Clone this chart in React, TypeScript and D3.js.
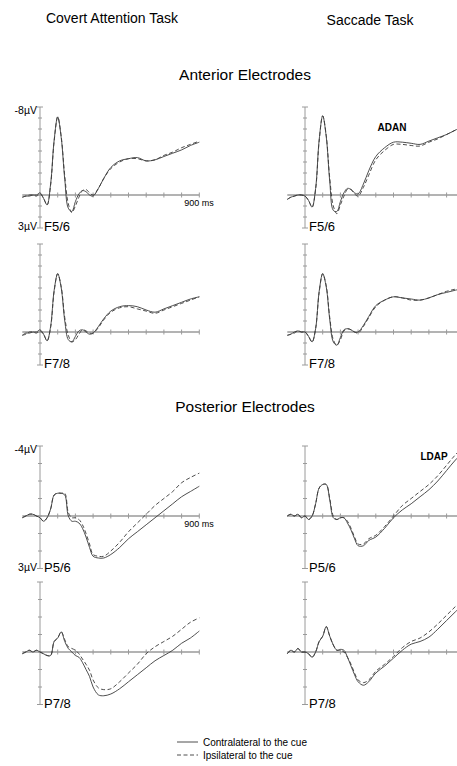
import React, { useEffect, useRef } from "react";
import * as d3 from "d3";

// time points in ms
const times = [-100, -80, -60, -40, -20, 0, 20, 40, 60, 80, 100, 120, 140, 160, 180, 200, 220, 240, 260, 280, 300, 330, 360, 400, 450, 500, 550, 600, 650, 700, 750, 800, 850, 900];

// Anterior, covert attention (µV, negative up)
const covertF56Contra = [0.2, 0.1, 0.1, 0.0, 0.0, -0.2, 0.3, 0.9, -1.0, -5.0, -7.1, -5.2, -1.4, 1.2, 1.5, 0.6, -0.1, -0.4, -0.3, 0.0, 0.1, -0.6, -1.5, -2.5, -3.1, -3.3, -3.4, -3.1, -3.2, -3.5, -3.8, -4.1, -4.5, -4.8];
const covertF56Ipsi = [0.2, 0.1, 0.0, 0.0, 0.1, -0.1, 0.3, 0.9, -0.9, -4.9, -7.1, -5.3, -1.7, 0.8, 1.6, 1.0, 0.2, -0.4, -0.5, -0.2, 0.0, -0.6, -1.5, -2.4, -3.0, -3.3, -3.3, -3.1, -3.2, -3.6, -3.9, -4.3, -4.6, -4.9];
const covertF78Contra = [0.3, 0.1, 0.1, 0.0, 0.0, -0.2, 0.2, 0.8, -0.5, -3.8, -5.3, -4.0, -1.0, 0.7, 0.9, 0.4, -0.1, -0.2, 0.0, 0.2, 0.1, -0.5, -1.2, -1.9, -2.3, -2.4, -2.3, -2.0, -1.8, -2.1, -2.4, -2.7, -3.0, -3.2];
const covertF78Ipsi = [0.3, 0.2, 0.0, 0.0, 0.1, -0.1, 0.2, 0.8, -0.4, -3.7, -5.3, -4.1, -1.3, 0.3, 0.9, 0.7, 0.2, -0.2, -0.1, 0.1, 0.1, -0.4, -1.1, -1.8, -2.2, -2.3, -2.1, -1.9, -1.7, -2.0, -2.3, -2.6, -2.9, -3.2];

// Anterior, saccade
const saccadeF56Contra = [0.4, 0.2, 0.1, 0.0, 0.0, 0.1, 0.5, 1.1, -0.6, -5.0, -7.2, -5.3, -1.2, 1.4, 1.5, 0.6, -0.2, -0.6, -0.5, -0.2, -0.1, -1.0, -2.2, -3.5, -4.3, -4.8, -4.8, -4.7, -4.6, -4.9, -5.2, -5.5, -5.9, -6.3];
const saccadeF56Ipsi = [0.4, 0.2, 0.1, 0.0, 0.0, 0.1, 0.5, 1.1, -0.5, -4.9, -7.2, -5.4, -1.5, 1.0, 1.7, 0.9, 0.1, -0.5, -0.5, -0.1, 0.1, -0.7, -1.8, -3.2, -4.05, -4.6, -4.6, -4.5, -4.45, -4.8, -5.1, -5.5, -5.9, -6.2];
const saccadeF78Contra = [0.3, 0.2, 0.0, -0.1, 0.0, 0.0, 0.4, 0.9, -0.3, -3.7, -5.3, -4.1, -1.1, 0.9, 1.2, 0.5, -0.2, -0.3, -0.2, 0.0, 0.0, -0.6, -1.4, -2.4, -2.9, -3.2, -3.1, -3.0, -2.9, -3.1, -3.4, -3.6, -3.8, -4.0];
const saccadeF78Ipsi = [0.3, 0.2, 0.1, -0.1, 0.0, 0.0, 0.4, 0.9, -0.3, -3.6, -5.3, -4.2, -1.3, 0.7, 1.2, 0.7, -0.1, -0.3, -0.2, 0.0, 0.1, -0.5, -1.3, -2.3, -2.9, -3.2, -3.1, -2.9, -2.9, -3.1, -3.4, -3.7, -3.9, -4.1];

// Posterior, covert attention
const covertP56Contra = [0.1, 0.0, -0.1, -0.1, 0.0, 0.1, 0.3, 0.1, -0.4, -1.2, -1.3, -1.3, -1.2, 0.0, 0.3, 0.3, 0.4, 0.7, 1.2, 1.8, 2.3, 2.4, 2.4, 2.2, 1.8, 1.3, 0.9, 0.5, 0.1, -0.3, -0.7, -1.1, -1.4, -1.7];
const covertP56Ipsi = [0.1, 0.0, -0.1, -0.1, 0.0, 0.1, 0.3, 0.1, -0.4, -1.2, -1.3, -1.3, -1.3, -0.2, 0.1, 0.1, 0.2, 0.5, 1.0, 1.6, 2.2, 2.3, 2.3, 2.0, 1.5, 0.9, 0.4, -0.1, -0.6, -1.0, -1.4, -1.9, -2.2, -2.45];
const covertP78Contra = [0.1, 0.0, -0.1, 0.0, -0.1, 0.0, 0.1, 0.2, 0.2, -0.6, -0.8, -1.15, -0.6, -0.2, 0.0, 0.2, 0.3, 0.6, 1.0, 1.4, 2.0, 2.45, 2.5, 2.4, 2.1, 1.7, 1.3, 0.9, 0.5, 0.2, -0.1, -0.5, -0.8, -1.2];
const covertP78Ipsi = [0.1, 0.0, -0.1, 0.0, -0.1, 0.0, 0.1, 0.2, 0.2, -0.6, -0.8, -1.15, -0.7, -0.3, -0.2, -0.1, 0.1, 0.4, 0.7, 1.05, 1.6, 2.05, 2.15, 2.1, 1.7, 1.2, 0.7, 0.1, -0.3, -0.6, -0.9, -1.3, -1.7, -1.95];

// Posterior, saccade
const saccadeP56Contra = [0.0, -0.1, 0.0, -0.1, 0.1, 0.0, 0.2, 0.0, -0.7, -1.6, -1.8, -1.8, -0.9, 0.1, 0.2, 0.1, 0.1, 0.4, 0.8, 1.3, 1.7, 1.7, 1.4, 1.2, 0.7, 0.1, -0.35, -0.7, -1.1, -1.5, -2.0, -2.6, -3.2, -3.7];
const saccadeP56Ipsi = [0.0, -0.1, 0.0, -0.1, 0.1, 0.0, 0.2, 0.0, -0.7, -1.6, -1.8, -1.8, -1.0, 0.0, 0.2, 0.1, 0.1, 0.3, 0.7, 1.2, 1.6, 1.6, 1.3, 1.1, 0.6, 0.0, -0.6, -1.0, -1.4, -1.8, -2.3, -2.9, -3.5, -4.0];
const saccadeP78Contra = [0.1, -0.1, 0.0, -0.2, 0.0, 0.0, 0.1, 0.3, 0.0, -0.6, -0.9, -1.45, -0.9, -0.4, -0.1, -0.15, -0.1, 0.3, 0.8, 1.3, 1.7, 1.9, 1.7, 1.2, 0.8, 0.35, -0.1, -0.45, -0.6, -0.85, -1.3, -1.8, -2.3, -2.8];
const saccadeP78Ipsi = [0.1, -0.1, 0.0, -0.2, 0.0, 0.0, 0.1, 0.3, 0.0, -0.6, -0.9, -1.45, -0.9, -0.4, -0.1, -0.1, 0.0, 0.3, 0.7, 1.2, 1.6, 1.75, 1.6, 1.1, 0.7, 0.25, -0.25, -0.6, -0.8, -1.15, -1.6, -2.1, -2.6, -3.1];

const xTicks = [100, 200, 300, 400, 500, 600, 700, 800, 900];
const anteriorRange = [-8, 3];
const posteriorRange = [-4, 3];

const FONT = "'Liberation Sans', Arial, sans-serif";

const App = () => {
  const svgRef = useRef<SVGSVGElement>(null);

  useEffect(() => {
    document.body.style.margin = "0";
    const svg = d3.select(svgRef.current);
    svg.selectAll("*").remove();

    const width = 457;
    const height = 766;
    svg.attr("width", width).attr("height", height);

    const pxPerMs = 0.177;
    const columns = [40, 305]; // x of 0 ms
    const rows = [
      { top: 107, height: 121, range: anteriorRange },
      { top: 244, height: 121, range: anteriorRange },
      { top: 446, height: 122.5, range: posteriorRange },
      { top: 582, height: 122.5, range: posteriorRange },
    ];

    const panels = [
      { col: 0, row: 0, label: "F5/6", contra: covertF56Contra, ipsi: covertF56Ipsi },
      { col: 0, row: 1, label: "F7/8", contra: covertF78Contra, ipsi: covertF78Ipsi },
      { col: 1, row: 0, label: "F5/6", contra: saccadeF56Contra, ipsi: saccadeF56Ipsi },
      { col: 1, row: 1, label: "F7/8", contra: saccadeF78Contra, ipsi: saccadeF78Ipsi },
      { col: 0, row: 2, label: "P5/6", contra: covertP56Contra, ipsi: covertP56Ipsi },
      { col: 0, row: 3, label: "P7/8", contra: covertP78Contra, ipsi: covertP78Ipsi },
      { col: 1, row: 2, label: "P5/6", contra: saccadeP56Contra, ipsi: saccadeP56Ipsi },
      { col: 1, row: 3, label: "P7/8", contra: saccadeP78Contra, ipsi: saccadeP78Ipsi },
    ];

    const axisColor = "#9a9a9a";
    const lineColor = "#3a3a3a";

    panels.forEach((p) => {
      const r = rows[p.row];
      const x0 = columns[p.col];
      const x = d3.scaleLinear()
        .domain([-100, 900])
        .range([x0 - 100 * pxPerMs, x0 + 900 * pxPerMs]);
      const y = d3.scaleLinear()
        .domain(r.range)
        .range([r.top, r.top + r.height]);

      const g = svg.append("g");

      // x axis
      g.append("line")
        .attr("x1", x(-100)).attr("x2", x(900))
        .attr("y1", y(0)).attr("y2", y(0))
        .attr("stroke", axisColor).attr("stroke-width", 1.3);
      g.selectAll("line.xt")
        .data(xTicks)
        .enter()
        .append("line")
        .attr("x1", d => x(d)).attr("x2", d => x(d))
        .attr("y1", y(0) - 2.5).attr("y2", y(0) + 2.5)
        .attr("stroke", axisColor).attr("stroke-width", 1);

      // y axis
      g.append("line")
        .attr("x1", x(0)).attr("x2", x(0))
        .attr("y1", y(r.range[0])).attr("y2", y(r.range[1]))
        .attr("stroke", axisColor).attr("stroke-width", 1);
      const yTicks = d3.range(r.range[0], r.range[1] + 1);
      g.selectAll("line.yt")
        .data(yTicks)
        .enter()
        .append("line")
        .attr("x1", d => x(0) - (d === r.range[0] || d === r.range[1] ? 3 : 2))
        .attr("x2", d => x(0) + (d === r.range[0] || d === r.range[1] ? 3 : 2))
        .attr("y1", d => y(d)).attr("y2", d => y(d))
        .attr("stroke", axisColor).attr("stroke-width", 1);

      const line = d3.line<number>()
        .x((_, i) => x(times[i]))
        .y(d => y(d))
        .curve(d3.curveCatmullRom.alpha(0.5));

      g.append("path")
        .attr("d", line(p.ipsi))
        .attr("fill", "none")
        .attr("stroke", lineColor)
        .attr("stroke-width", 0.9)
        .attr("stroke-dasharray", "4,2.5");
      g.append("path")
        .attr("d", line(p.contra))
        .attr("fill", "none")
        .attr("stroke", lineColor)
        .attr("stroke-width", 0.9);

      // electrode label
      g.append("text")
        .attr("x", x(0) + 4)
        .attr("y", y(r.range[1]) + 3)
        .style("font-family", FONT)
        .style("font-size", "13px")
        .text(p.label);

      // units only on the first covert panel of each region
      if (p.col === 0 && (p.row === 0 || p.row === 2)) {
        g.append("text")
          .attr("x", x(0) - 3)
          .attr("y", y(r.range[0]) + 7)
          .attr("text-anchor", "end")
          .style("font-family", FONT)
          .style("font-size", "10.5px")
          .text(`${r.range[0]}µV`);
        g.append("text")
          .attr("x", x(0) - 3)
          .attr("y", y(r.range[1]) + 2)
          .attr("text-anchor", "end")
          .style("font-family", FONT)
          .style("font-size", "10.5px")
          .text(`${r.range[1]}µV`);
        g.append("text")
          .attr("x", x(900) - 15)
          .attr("y", y(0) + 11)
          .style("font-family", FONT)
          .style("font-size", "9px")
          .text("900 ms");
      }
    });

    // titles
    const title = (tx: number, ty: number, s: string, size: number, weight = "normal") =>
      svg.append("text")
        .attr("x", tx).attr("y", ty)
        .attr("text-anchor", "middle")
        .style("font-family", FONT)
        .style("font-size", `${size}px`)
        .style("font-weight", weight)
        .text(s);

    title(112, 23, "Covert Attention Task", 14);
    title(370, 25, "Saccade Task", 14);
    title(245, 80, "Anterior Electrodes", 15.5);
    title(245, 412, "Posterior Electrodes", 15.5);
    title(392, 131, "ADAN", 10, "bold");
    title(434, 460, "LDAP", 10, "bold");

    // legend
    const legend = [
      { text: "Contralateral to the cue", dash: null },
      { text: "Ipsilateral to the cue", dash: "4,2.5" },
    ];
    legend.forEach((d, i) => {
      const ly = 742 + i * 13;
      svg.append("line")
        .attr("x1", 177).attr("x2", 198)
        .attr("y1", ly).attr("y2", ly)
        .attr("stroke", lineColor)
        .attr("stroke-width", 0.9)
        .attr("stroke-dasharray", d.dash);
      svg.append("text")
        .attr("x", 203).attr("y", ly + 3.5)
        .style("font-family", FONT)
        .style("font-size", "10px")
        .text(d.text);
    });
  }, []);

  return <svg ref={svgRef} style={{ display: "block" }} />;
};

export default App;
